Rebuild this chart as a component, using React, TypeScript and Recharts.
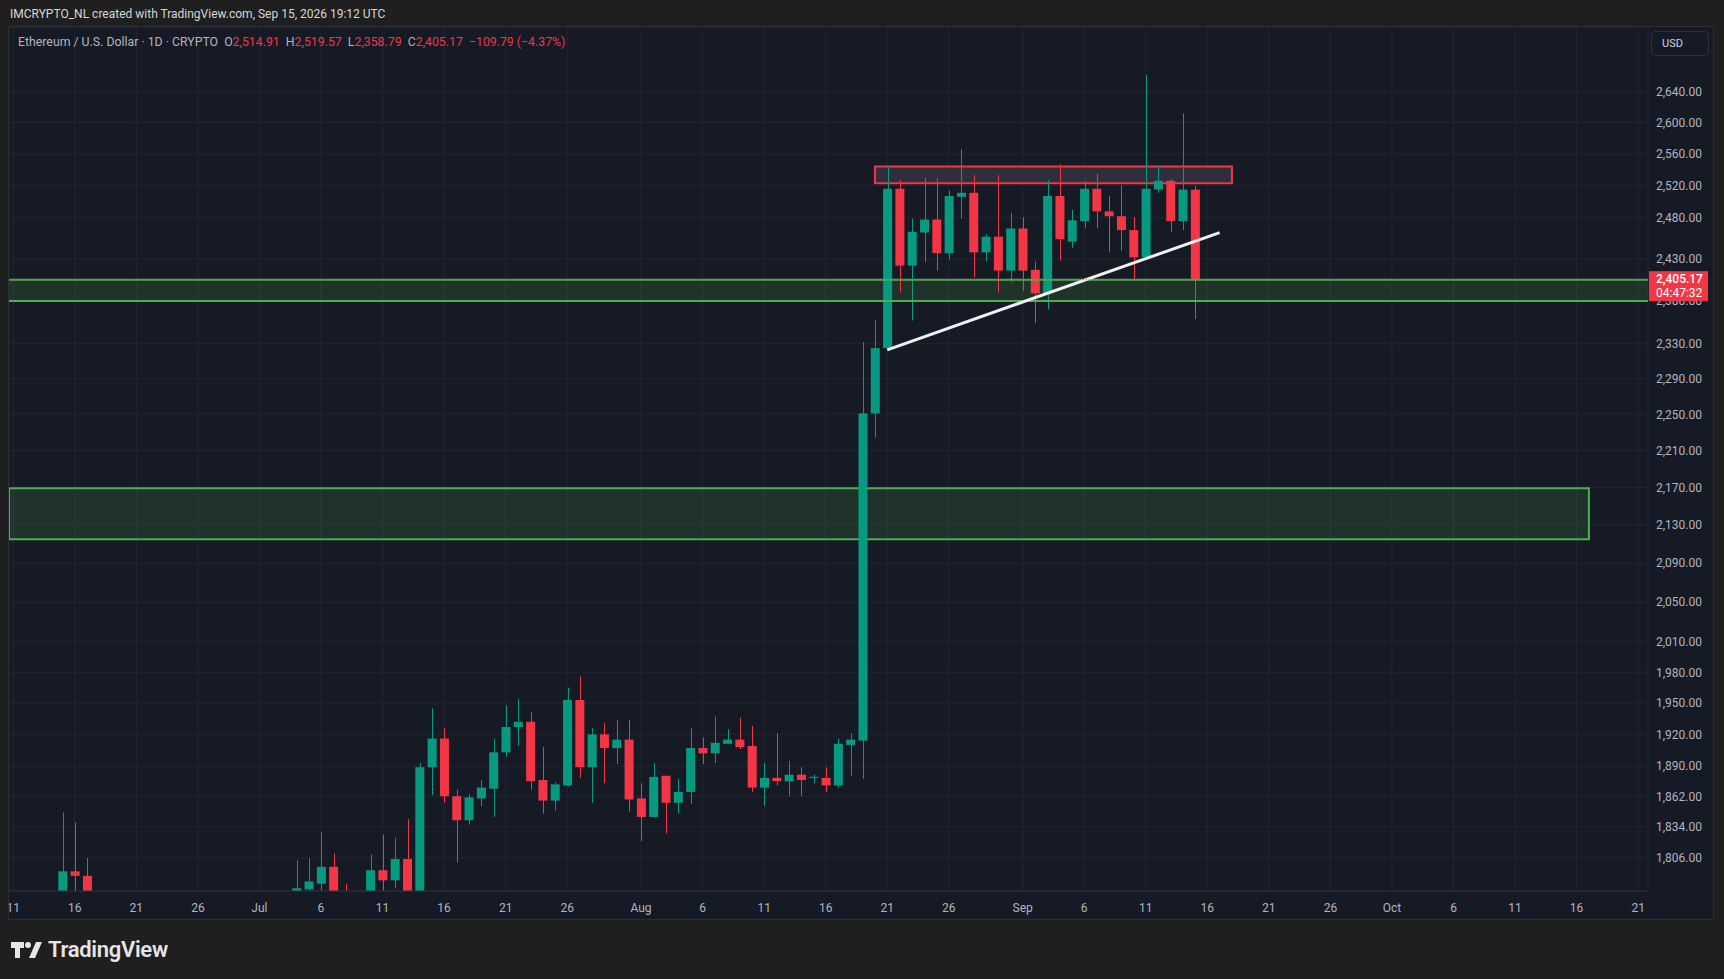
import React from "react";
import {
  ComposedChart,
  Bar,
  XAxis,
  YAxis,
  CartesianGrid,
  ReferenceArea,
  ReferenceLine,
} from "recharts";

// daily candles, ETH/USD (days fully below the visible range are left out)
const dates = [
  "2026-06-15", "2026-06-16", "2026-06-17",
  "2026-07-04", "2026-07-05", "2026-07-06", "2026-07-07", "2026-07-08",
  "2026-07-10", "2026-07-11", "2026-07-12", "2026-07-13", "2026-07-14",
  "2026-07-15", "2026-07-16", "2026-07-17", "2026-07-18", "2026-07-19",
  "2026-07-20", "2026-07-21", "2026-07-22", "2026-07-23", "2026-07-24",
  "2026-07-25", "2026-07-26", "2026-07-27", "2026-07-28", "2026-07-29",
  "2026-07-30", "2026-07-31", "2026-08-01", "2026-08-02", "2026-08-03",
  "2026-08-04", "2026-08-05", "2026-08-06", "2026-08-07", "2026-08-08",
  "2026-08-09", "2026-08-10", "2026-08-11", "2026-08-12", "2026-08-13",
  "2026-08-14", "2026-08-15", "2026-08-16", "2026-08-17", "2026-08-18",
  "2026-08-19", "2026-08-20", "2026-08-21", "2026-08-22", "2026-08-23",
  "2026-08-24", "2026-08-25", "2026-08-26", "2026-08-27", "2026-08-28",
  "2026-08-29", "2026-08-30", "2026-08-31", "2026-09-01", "2026-09-02",
  "2026-09-03", "2026-09-04", "2026-09-05", "2026-09-06", "2026-09-07",
  "2026-09-08", "2026-09-09", "2026-09-10", "2026-09-11", "2026-09-12",
  "2026-09-13", "2026-09-14", "2026-09-15",
];

const opens = [
  1760, 1794, 1790,
  1768, 1778, 1783, 1798, 1775,
  1760, 1795, 1786, 1805, 1772,
  1889, 1916, 1862, 1840, 1860,
  1869, 1903, 1927, 1932, 1877,
  1858, 1872, 1953, 1889, 1920,
  1907, 1915, 1860, 1843, 1881,
  1856, 1866, 1907, 1902, 1911,
  1915, 1909, 1870, 1879, 1876,
  1882, 1879, 1879, 1872, 1910,
  1914, 2251, 2325, 2516, 2422,
  2462, 2478, 2437, 2506, 2511,
  2438, 2457, 2416, 2467, 2417,
  2389, 2507, 2451, 2476, 2516,
  2488, 2482, 2465, 2432, 2515,
  2526, 2476, 2514.91,
];

const highs = [
  1847, 1838, 1806,
  1804, 1806, 1829, 1810, 1783,
  1809, 1827, 1824, 1841, 1893,
  1945, 1926, 1868, 1864, 1877,
  1916, 1948, 1954, 1941, 1908,
  1875, 1965, 1976, 1926, 1931,
  1934, 1934, 1874, 1893, 1881,
  1878, 1926, 1917, 1937, 1925,
  1936, 1928, 1893, 1921, 1895,
  1889, 1882, 1889, 1916, 1921,
  2332, 2358, 2545, 2527, 2479,
  2530, 2529, 2514, 2566, 2533,
  2460, 2533, 2486, 2481, 2427,
  2527, 2547, 2490, 2526, 2535,
  2507, 2520, 2481, 2662, 2545,
  2528, 2612, 2519.57,
];

const lows = [
  1740, 1765, 1750,
  1760, 1775, 1777, 1760, 1755,
  1755, 1775, 1779, 1765, 1765,
  1863, 1856, 1802, 1836, 1853,
  1843, 1899, 1909, 1868, 1846,
  1849, 1871, 1879, 1856, 1874,
  1892, 1848, 1821, 1843, 1828,
  1846, 1855, 1892, 1893, 1911,
  1906, 1866, 1853, 1872, 1862,
  1862, 1874, 1866, 1870, 1881,
  1878, 2224, 2322, 2390, 2357,
  2426, 2416, 2429, 2479, 2408,
  2427, 2390, 2402, 2392, 2354,
  2370, 2428, 2443, 2467, 2467,
  2438, 2440, 2405, 2430, 2511,
  2463, 2465, 2358.79,
];

const closes = [
  1794, 1790, 1765,
  1779, 1785, 1798, 1770, 1765,
  1795, 1786, 1805, 1772, 1889,
  1916, 1862, 1840, 1861, 1870,
  1903, 1927, 1932, 1876, 1858,
  1873, 1953, 1889, 1920, 1907,
  1915, 1859, 1843, 1880, 1856,
  1866, 1907, 1902, 1912, 1915,
  1908, 1870, 1879, 1876, 1882,
  1877, 1880, 1872, 1911, 1915,
  2251, 2325, 2516, 2422, 2463,
  2478, 2437, 2507, 2511, 2438,
  2457, 2416, 2467, 2416, 2389,
  2507, 2454, 2477, 2516, 2488,
  2482, 2465, 2432, 2516, 2526,
  2476, 2514.96, 2405.17,
];

const priceTicks = [
  1806, 1834, 1862, 1890, 1920, 1950, 1980, 2010, 2050, 2090, 2130, 2170,
  2210, 2250, 2290, 2330, 2380, 2430, 2480, 2520, 2560, 2600, 2640,
];

const timeTickDates = [
  "2026-06-11", "2026-06-16", "2026-06-21", "2026-06-26", "2026-07-01",
  "2026-07-06", "2026-07-11", "2026-07-16", "2026-07-21", "2026-07-26",
  "2026-08-01", "2026-08-06", "2026-08-11", "2026-08-16", "2026-08-21",
  "2026-08-26", "2026-09-01", "2026-09-06", "2026-09-11", "2026-09-16",
  "2026-09-21", "2026-09-26", "2026-10-01", "2026-10-06", "2026-10-11",
  "2026-10-16", "2026-10-21",
];
const timeTickLabels = [
  "11", "16", "21", "26", "Jul", "6", "11", "16", "21", "26", "Aug", "6",
  "11", "16", "21", "26", "Sep", "6", "11", "16", "21", "26", "Oct", "6",
  "11", "16", "21",
];

// drawings
const supportZone = [2380, 2405.17];
const demandZone = [2115, 2169];
const demandZoneEnd = "2026-10-17";
const resistanceZone = [2523, 2544];
const resistanceDates = ["2026-08-20", "2026-09-18"];
const trendDates = ["2026-08-21", "2026-09-17"];
const trendPrices = [2323, 2462];
const lastPrice = 2405.17;

const UP = "#089981";
const DOWN = "#f23645";
const ZONE = "#4caf50";
const BG = "#161a25";
const GRID = "#232632";
const TEXT = "#b2b5be";
const FONT = "Roboto, 'Liberation Sans', sans-serif";

const W = 1704;
const H = 892;
const X_DOMAIN = [9.655, 142.8];
const Y_DOMAIN = [1776.6, 2726];

const day = (s: string) =>
  (Date.parse(s) - Date.parse("2026-06-01")) / 86400000;

const rows = dates.map((d, i) => ({
  t: day(d),
  open: opens[i],
  high: highs[i],
  low: lows[i],
  close: closes[i],
  range: [lows[i], highs[i]],
}));

const timeTicks = timeTickDates.map(day);
const tickLabel = (v: number) => {
  const i = timeTicks.indexOf(v);
  return i >= 0 ? timeTickLabels[i] : "";
};

function Candle(props: any) {
  const { x, y, width, height, payload } = props;
  if (!payload || y == null || height == null) return null;
  const { open, close, high, low } = payload;
  const color = close >= open ? UP : DOWN;
  const k = height / (Math.log(high) - Math.log(low) || 1);
  const py = (v: number) => y + (Math.log(high) - Math.log(v)) * k;
  const top = py(Math.max(open, close));
  const bot = py(Math.min(open, close));
  const cx = Math.round(x + width / 2) + 0.5;
  return (
    <g>
      <line x1={cx} x2={cx} y1={y} y2={y + height} stroke={color} strokeWidth={1} />
      <rect x={x} y={top} width={width} height={Math.max(1, bot - top)} fill={color} />
    </g>
  );
}

function PriceTag(props: any) {
  const vb = props.viewBox || {};
  const left = vb.x + vb.width + 1;
  const y = vb.y;
  return (
    <g>
      <rect x={left} y={y - 8.5} width={59} height={30} fill={DOWN} />
      <text x={left + 7} y={y + 3.5} fill="#fff" fontSize={12} fontFamily={FONT} fontWeight={500}>
        2,405.17
      </text>
      <text x={left + 7} y={y + 17} fill="#fff" fontSize={12} fontFamily={FONT}>
        04:47:32
      </text>
    </g>
  );
}

function Logo() {
  return (
    <svg width={32} height={18} viewBox="0 0 32 18">
      <path d="M0 1h13v6H9v10H4V7H0z" fill="#e6e6e6" />
      <circle cx={17} cy={4} r={3} fill="#e6e6e6" />
      <path d="M25 1h6l-7 16h-6z" fill="#e6e6e6" />
    </svg>
  );
}

const fmtPrice = (v: number) =>
  v.toLocaleString("en-US", { minimumFractionDigits: 2, maximumFractionDigits: 2 });

export default function App() {
  return (
    <div
      style={{
        position: "absolute",
        left: 0,
        top: 0,
        width: 1724,
        height: 979,
        background: "#1f1f1f",
        fontFamily: FONT,
        overflow: "hidden",
      }}
    >
      <div style={{ position: "absolute", left: 10, top: 7, fontSize: 12, color: "#d6d6d6" }}>
        IMCRYPTO_NL created with TradingView.com, Sep 15, 2026 19:12 UTC
      </div>

      <div
        style={{
          position: "absolute",
          left: 8,
          top: 26,
          width: 1706,
          height: 894,
          boxSizing: "border-box",
          background: BG,
          border: "1px solid #2a2e39",
        }}
      />

      <div style={{ position: "absolute", left: 9, top: 27, width: W, height: H, overflow: "hidden" }}>
        <ComposedChart width={W} height={H} data={rows} margin={{ top: 0, right: 0, bottom: 0, left: 0 }}>
          <CartesianGrid stroke={GRID} strokeWidth={1} />
          <XAxis
            dataKey="t"
            type="number"
            domain={X_DOMAIN}
            allowDataOverflow
            ticks={timeTicks}
            interval={0}
            tickFormatter={tickLabel}
            height={28}
            tickSize={0}
            tickMargin={12}
            axisLine={{ stroke: "#2a2e39" }}
            tickLine={false}
            tick={{ fill: TEXT, fontSize: 12, fontFamily: FONT }}
          />
          <YAxis
            orientation="right"
            scale="log"
            domain={Y_DOMAIN}
            allowDataOverflow
            ticks={priceTicks}
            interval={0}
            width={65}
            tickSize={0}
            tickMargin={8}
            axisLine={false}
            tickLine={false}
            tickFormatter={fmtPrice}
            tick={{ fill: TEXT, fontSize: 12, fontFamily: FONT, textAnchor: "start" }}
          />
          <ReferenceArea y1={supportZone[0]} y2={supportZone[1]} fill={ZONE} fillOpacity={0.17} />
          <ReferenceLine y={supportZone[0]} stroke={ZONE} strokeWidth={2} />
          <ReferenceLine y={supportZone[1]} stroke={ZONE} strokeWidth={2} />
          <ReferenceArea
            x2={day(demandZoneEnd)}
            y1={demandZone[0]}
            y2={demandZone[1]}
            fill={ZONE}
            fillOpacity={0.17}
            stroke={ZONE}
            strokeWidth={2}
          />
          <ReferenceArea
            x1={day(resistanceDates[0])}
            x2={day(resistanceDates[1])}
            y1={resistanceZone[0]}
            y2={resistanceZone[1]}
            fill="#3a3846"
            fillOpacity={0.7}
            stroke={DOWN}
            strokeWidth={2}
          />
          <Bar dataKey="range" barSize={9} shape={<Candle />} isAnimationActive={false} />
          <ReferenceLine
            segment={[
              { x: day(trendDates[0]), y: trendPrices[0] },
              { x: day(trendDates[1]), y: trendPrices[1] },
            ]}
            stroke="#f0f0f0"
            strokeWidth={3}
          />
        </ComposedChart>
      </div>

      {/* same scales again on top, so the last-price tag covers the axis labels */}
      <div style={{ position: "absolute", left: 9, top: 27, width: W, height: H }}>
        <ComposedChart width={W} height={H} data={rows} margin={{ top: 0, right: 0, bottom: 0, left: 0 }}>
          <XAxis
            dataKey="t"
            type="number"
            domain={X_DOMAIN}
            allowDataOverflow
            height={28}
            tick={false}
            axisLine={false}
            tickLine={false}
          />
          <YAxis
            orientation="right"
            scale="log"
            domain={Y_DOMAIN}
            allowDataOverflow
            width={65}
            tick={false}
            axisLine={false}
            tickLine={false}
          />
          <ReferenceLine
            y={lastPrice}
            stroke={DOWN}
            strokeDasharray="1 2"
            strokeWidth={1}
            label={<PriceTag />}
          />
        </ComposedChart>
      </div>

      <div style={{ position: "absolute", left: 18, top: 35, fontSize: 12.3, color: TEXT, whiteSpace: "pre" }}>
        <span>Ethereum / U.S. Dollar · 1D · CRYPTO  </span>
        <span>O</span><span style={{ color: DOWN }}>2,514.91  </span>
        <span>H</span><span style={{ color: DOWN }}>2,519.57  </span>
        <span>L</span><span style={{ color: DOWN }}>2,358.79  </span>
        <span>C</span><span style={{ color: DOWN }}>2,405.17  −109.79 (−4.37%)</span>
      </div>

      <div
        style={{
          position: "absolute",
          left: 1651,
          top: 31,
          width: 58,
          height: 25,
          boxSizing: "border-box",
          border: "1px solid #2e323e",
          borderRadius: 4,
          color: "#d1d4dc",
          fontSize: 11,
          lineHeight: "23px",
          paddingLeft: 10,
        }}
      >
        USD
      </div>

      <div style={{ position: "absolute", left: 11, top: 937, display: "flex", alignItems: "center", gap: 5 }}>
        <Logo />
        <span style={{ fontSize: 22, fontWeight: 600, color: "#e6e6e6", letterSpacing: -0.3 }}>TradingView</span>
      </div>
    </div>
  );
}
